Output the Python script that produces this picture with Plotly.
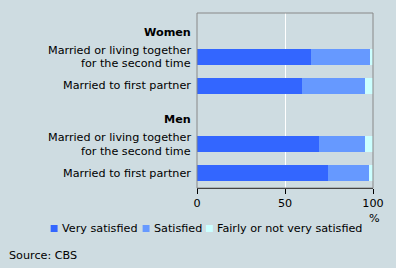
import plotly.graph_objects as go

categories = ["hdr_w", "w_second", "w_first", "hdr_m", "m_second", "m_first"]
tick_labels = ["", "Married or living together<br>for the second time", "Married to first partner",
               "", "Married or living together<br>for the second time", "Married to first partner"]
group_headers = {"hdr_w": "Women", "hdr_m": "Men"}
very_satisfied = [None, 64.6, 59.6, None, 69.1, 74.7]
satisfied = [None, 33.7, 35.9, None, 26.4, 23.1]
fairly_not = [None, 1.7, 4.5, None, 4.5, 2.2]
series_names = ["Very satisfied", "Satisfied", "Fairly or not very satisfied"]
colors = ["#3366FF", "#6699FF", "#CCFFFF"]
tick_vals = [0, 50, 100]

bg = "#CEDCE1"
FS = 11.2
font = dict(family="DejaVu Sans", size=FS, color="#000000")

# plot area in pixels
L, R, T, B = 197, 375, 13, 188
def px(x):
    return (x - L) / (R - L)
def py(y):
    return (B - y) / (B - T)

fig = go.Figure()
for name, vals, c in zip(series_names, [very_satisfied, satisfied, fairly_not], colors):
    fig.add_trace(go.Bar(y=categories, x=vals, name=name, orientation="h",
                         marker=dict(color=c, line=dict(width=0)), width=0.55,
                         showlegend=False))

shapes = [dict(type="rect", xref="paper", yref="paper", x0=0, x1=1, y0=0, y1=1,
               line=dict(color="#888888", width=1), fillcolor="rgba(0,0,0,0)", layer="above")]
annotations = []

# category labels (line-by-line for tighter line spacing)
for cat, lab in zip(categories, tick_labels):
    if not lab:
        continue
    lines = lab.split("<br>")
    n = len(lines)
    for i, ln in enumerate(lines):
        shift = (n - 1) / 2 * 13.5 - i * 13.5
        annotations.append(dict(text=ln, xref="paper", yref="y", x=px(192.5), y=cat,
                                xanchor="right", yanchor="middle", yshift=shift, showarrow=False,
                                font=font))

# group headers (bold)
for key, txt in group_headers.items():
    annotations.append(dict(text=f"<b>{txt}</b>", xref="paper", yref="y", x=px(192.5), y=key,
                            xanchor="right", yanchor="middle", yshift=-4.5, showarrow=False, font=font))

# legend (drawn manually to keep the compact layout)
legend_sq_x = [49, 142, 206]
for name, c, sx in zip(series_names, colors, legend_sq_x):
    shapes.append(dict(type="rect", xref="paper", yref="paper", x0=px(sx), x1=px(sx + 7),
                       y0=py(232), y1=py(225), fillcolor=c, line=dict(width=0)))
    annotations.append(dict(text=name, xref="paper", yref="paper", x=px(sx + 9), y=py(228.5),
                            xanchor="left", yanchor="middle", showarrow=False, font=font))

annotations.append(dict(text="%", xref="x", yref="paper", x=100, y=py(218), xanchor="center",
                        yanchor="middle", showarrow=False, font=font, xshift=1))
annotations.append(dict(text="Source: CBS", xref="paper", yref="paper", x=px(5), y=py(255),
                        xanchor="left", yanchor="middle", showarrow=False, font=font))

fig.update_layout(
    barmode="stack",
    width=396, height=268,
    paper_bgcolor=bg, plot_bgcolor=bg,
    margin=dict(l=L, r=396 - R, t=T, b=268 - B),
    font=font,
    showlegend=False,
    xaxis=dict(range=[0, 100], tickvals=tick_vals, ticks="outside", ticklen=5, tickcolor="#000",
               showgrid=True, gridcolor="#FFFFFF", gridwidth=1, zeroline=False,
               showline=True, linecolor="#000000", linewidth=1, mirror=False, fixedrange=True),
    yaxis=dict(categoryorder="array", categoryarray=categories, autorange="reversed",
               showticklabels=False,
               showgrid=False, zeroline=False, showline=False, ticks="", ticklen=0,
               fixedrange=True),
    shapes=shapes,
    annotations=annotations,
)
fig.write_html("out.html")
